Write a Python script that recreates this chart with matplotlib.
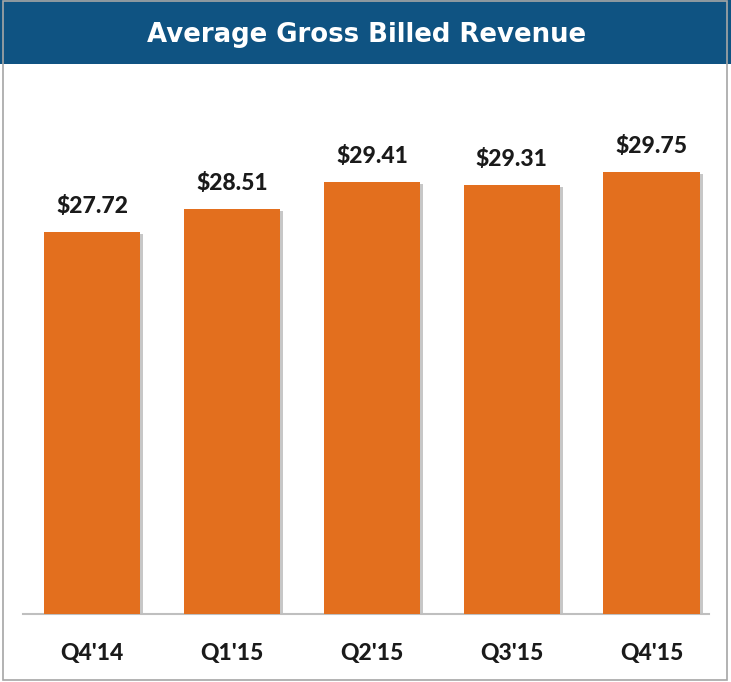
import matplotlib.pyplot as plt
import matplotlib.transforms as mtransforms
from matplotlib.patches import Rectangle

quarters = ["Q4'14", "Q1'15", "Q2'15", "Q3'15", "Q4'15"]
revenue = [27.72, 28.51, 29.41, 29.31, 29.75]
labels = ["$27.72", "$28.51", "$29.41", "$29.31", "$29.75"]

W, H = 731, 682
fig = plt.figure(figsize=(W / 100, H / 100), dpi=100)

# banner and outer border
fig.patches.append(Rectangle((0, 1 - 64 / H), 1, 64 / H, transform=fig.transFigure,
                             facecolor="#0F5382", edgecolor="none", zorder=0))
fig.patches.append(Rectangle((3 / W, 2 / H), 724 / W, (H - 3) / H, transform=fig.transFigure,
                             facecolor="none", edgecolor="#A6A6A6", lw=1.2, zorder=1))
fig.text(0.502, 1 - 35 / H, "Average Gross Billed Revenue", color="white",
         fontsize=18.7, fontweight="bold", family="DejaVu Sans", ha="center", va="center")

ax = fig.add_axes([23 / W, (H - 614) / H, (709 - 23) / W, (614 - 70) / H])
x = list(range(len(quarters)))
bars = ax.bar(x, revenue, width=0.69, color="#E36F1E", zorder=3)

# soft shadow on the right of each bar
shift = mtransforms.ScaledTranslation(3 / 100, -2 / 100, fig.dpi_scale_trans)
for b in bars:
    sh = Rectangle(b.get_xy(), b.get_width(), b.get_height(),
                   transform=ax.transData + shift, facecolor="#9A9A9A",
                   alpha=0.55, edgecolor="none", zorder=2)
    ax.add_patch(sh)

for xi, v, lab in zip(x, revenue, labels):
    ax.annotate(lab, (xi, v), xytext=(0, 13.5), textcoords="offset points",
                ha="center", va="baseline", fontsize=16.5, fontweight="black",
                family="Lato", color="#1A1A1A")

ax.set_xlim(-0.494, 4.41)
ax.set_ylim(14.8, 33.2)
ax.set_xticks(x)
ax.set_xticklabels(quarters, fontsize=16.5, fontweight="black", family="Lato", color="#1A1A1A")
ax.tick_params(axis="x", length=0, pad=21)
ax.set_yticks([])
for s in ["top", "left", "right"]:
    ax.spines[s].set_visible(False)
ax.spines["bottom"].set_color("#BFBFBF")
ax.spines["bottom"].set_linewidth(1.5)
ax.patch.set_alpha(0)

fig.savefig("out.png", dpi=100)
